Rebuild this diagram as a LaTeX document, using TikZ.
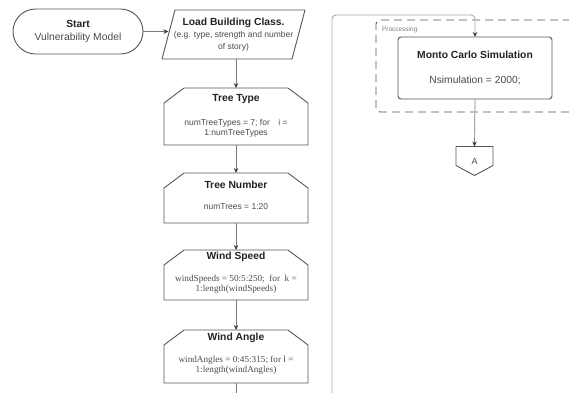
\documentclass[tikz,border=0pt]{standalone}
\usepackage{fontspec}
\setmainfont{Liberation Sans}
\newfontfamily\bodyserif{Liberation Serif}
\usetikzlibrary{arrows.meta,calc}
\definecolor{boxgray}{HTML}{555555}
\definecolor{conngray}{HTML}{7A7A7A}
\definecolor{tipgray}{HTML}{3A3F4A}
\definecolor{loopgray}{HTML}{A8A8A8}
\definecolor{titlecol}{HTML}{222222}
\definecolor{bodycol}{HTML}{4A4A4A}
\tikzset{
  boxline/.style={draw=boxgray, line width=0.9pt, line join=round},
  plainnode/.style={inner sep=0pt, outer sep=0pt},
  loopbox/.style={plainnode, minimum width=144pt},
  titletxt/.style={plainnode, font=\fontsize{10.3}{12}\selectfont\bfseries, text=titlecol},
  sansbody/.style={plainnode, font=\fontsize{8.5}{10}\selectfont, text=bodycol, align=center},
  serifbody/.style={plainnode, font=\bodyserif\fontsize{9.2}{9.5}\selectfont, text=bodycol, align=center},
  conn/.style={draw=conngray, line width=0.7pt, -{Stealth[length=5pt,width=4.5pt,color=tipgray]}},
  loopline/.style={draw=loopgray, line width=0.9pt, rounded corners=4pt, -{Stealth[length=5pt,width=4.5pt,color=tipgray]}},
}
\newcommand{\drawlooplim}[1]{%
  \draw[boxline] (#1.south west) -- ($(#1.north west)+(0,15)$) -- ($(#1.north west)+(20,0)$)
    -- ($(#1.north east)+(-20,0)$) -- ($(#1.north east)+(0,15)$) -- (#1.south east) -- cycle;}
\begin{document}
\begin{tikzpicture}[x=1pt,y=-1pt]
\useasboundingbox (0,0) rectangle (569,392);
% Start
\node[boxline, plainnode, minimum width=130pt, minimum height=45pt, rounded corners=22.5pt,
      align=center, font=\fontsize{10.3}{13.5}\selectfont, text=titlecol] (st) at (78,31.5)
      {\textbf{Start}\\{\color{bodycol}Vulnerability Model}};
% Load building class
\node[plainnode, minimum width=130pt, minimum height=49pt, align=center,
      font=\fontsize{8.5}{12}\selectfont, text=bodycol] (ld) at (233.5,34.5)
      {{\fontsize{10.3}{12}\selectfont\bfseries\color{titlecol}Load Building Class.}\\(e.g. type, strength and number\\of story)};
\draw[boxline] ($(ld.north west)+(6.5,0)$) -- ($(ld.north east)+(6.5,0)$)
   -- ($(ld.south east)+(-6.5,0)$) -- ($(ld.south west)+(-6.5,0)$) -- cycle;
% loop limit boxes
\node[loopbox, minimum height=57pt] (tt) at (236,116.5) {};
\node[loopbox, minimum height=50pt] (tn) at (236,198) {};
\node[loopbox, minimum height=50pt] (ws) at (236,275) {};
\node[loopbox, minimum height=53pt] (wa) at (236,356.5) {};
\drawlooplim{tt}\drawlooplim{tn}\drawlooplim{ws}\drawlooplim{wa}
\node[titletxt] (ttt) at (236,99) {Tree Type};
\node[sansbody] (ttb) at (236,128) {numTreeTypes = 7; for\quad i =\\1:numTreeTypes};
\node[titletxt] (tnt) at (236,185) {Tree Number};
\node[sansbody] (tnb) at (236,207) {numTrees = 1:20};
\node[titletxt] (wst) at (236,257) {Wind Speed};
\node[serifbody] (wsb) at (236,284) {windSpeeds = 50:5:250;\ \ for\ \ k =\\1:length(windSpeeds)};
\node[titletxt] (wat) at (236,338) {Wind Angle};
\node[serifbody] (wab) at (236,365) {windAngles = 0:45:315; for l =\\1:length(windAngles)};
% connectors left column
\draw[conn] (st.east) -- (st.east -| ld.west);
\draw[conn] (tt.north |- ld.south) -- (tt.north);
\draw[conn] (tt.south) -- (tn.north);
\draw[conn] (tn.south) -- (ws.north);
\draw[conn] (ws.south) -- (wa.north);
\coordinate (waend) at (236,393);
\draw[draw=conngray, line width=0.7pt] (wa.south) -- (waend);
% processing group
\node[plainnode, draw=boxgray, line width=0.9pt, dash pattern=on 8pt off 5pt,
      rounded corners=4pt, minimum width=264pt, minimum height=92pt] (proc) at (508,66) {};
\node[plainnode, anchor=west, font=\fontsize{6.5}{8}\selectfont, text=conngray] (procl) at (382,29.5) {Proccessing};
\node[boxline, plainnode, rounded corners=3pt, minimum width=154pt, minimum height=62pt,
      align=center, font=\fontsize{10.3}{12}\selectfont, text=bodycol] (mc) at (475,68)
      {{\bfseries\color{titlecol}Monto Carlo Simulation}\\[13pt]Nsimulation = 2000;};
% off-page connector A
\node[plainnode, minimum width=37pt, minimum height=29pt, font=\fontsize{9}{10}\selectfont,
      text=bodycol] (offA) at (474.5,161) {A};
\draw[boxline] (offA.north west) -- (offA.north east) -- ($(offA.south east)+(0,-10)$)
   -- (offA.south) -- ($(offA.south west)+(0,-10)$) -- cycle;
\draw[conn] (mc.south) -- (offA.north);
% loop-back line
\coordinate (loopstart) at (332,393);
\draw[loopline] (loopstart) |- ($(mc.north)+(0,-22)$) -- (mc.north);
\end{tikzpicture}
\end{document}
